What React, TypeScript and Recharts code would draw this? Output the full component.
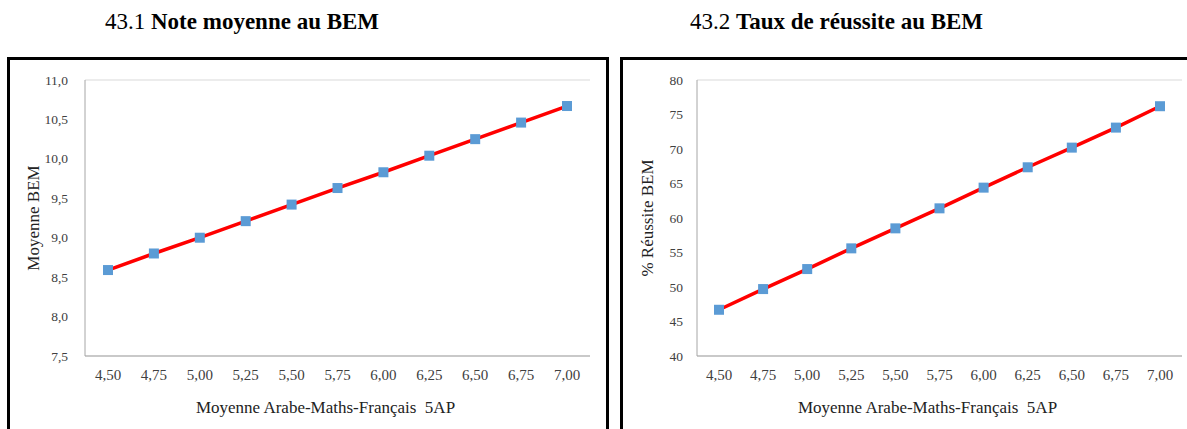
import React from "react";
import { LineChart, Line, XAxis, YAxis, CartesianGrid } from "recharts";

// Moyenne Arabe-Maths-Français 5AP (x categories)
const moyenne5AP = ["4,50", "4,75", "5,00", "5,25", "5,50", "5,75", "6,00", "6,25", "6,50", "6,75", "7,00"];
// 43.1 Note moyenne au BEM
const noteBEM = [8.59, 8.8, 9.0, 9.21, 9.42, 9.63, 9.83, 10.04, 10.25, 10.46, 10.67];
// 43.2 Taux de réussite au BEM (%)
const tauxBEM = [46.7, 49.7, 52.6, 55.6, 58.5, 61.4, 64.4, 67.35, 70.2, 73.1, 76.2];

const noteTicks = [7.5, 8, 8.5, 9, 9.5, 10, 10.5, 11];
const tauxTicks = [40, 45, 50, 55, 60, 65, 70, 75, 80];

const FONT = "'Liberation Serif', 'Times New Roman', serif";
const LINE_RED = "#ff0000";
const MARKER_BLUE = "#5b9bd5";
const BORDER_GRAY = "#a6a6a6";
const GRID_GRAY = "#d9d9d9";
const TICK_COLOR = "#404040";

const noteData = moyenne5AP.map((m, i) => ({ m, v: noteBEM[i] }));
const tauxData = moyenne5AP.map((m, i) => ({ m, v: tauxBEM[i] }));

const SquareDot = (props: any) => {
  const { cx, cy, index } = props;
  if (cx == null || cy == null) return null;
  return <rect key={index} x={cx - 5} y={cy - 5} width={10} height={10} fill={MARKER_BLUE} />;
};

const XTick = ({ x, y, payload }: any) => (
  <text x={x} y={y + 16} textAnchor="middle" fontFamily={FONT} fontSize={15} fill={TICK_COLOR}>
    {payload.value}
  </text>
);

interface PanelProps {
  data: { m: string; v: number }[];
  ticks: number[];
  domain: [number, number];
  fmt: (v: number) => string;
  yLabel: string;
  width: number;
  yWidth: number;
  right: number;
  pad: number;
  yLabelX: number;
  tickGap: number;
}

function Panel({ data, ticks, domain, fmt, yLabel, width, yWidth, right, pad, yLabelX, tickGap }: PanelProps) {
  const YTick = ({ x, y, payload }: any) => (
    <text x={x - tickGap + 8} y={y + 4.5} textAnchor="end" fontFamily={FONT} fontSize={13.5} fill={TICK_COLOR}>
      {fmt(payload.value)}
    </text>
  );
  return (
    <LineChart width={width} height={370} data={data} margin={{ top: 21, right, left: 0, bottom: 0 }}>
      <CartesianGrid vertical={false} stroke={GRID_GRAY} />
      <XAxis
        dataKey="m"
        xAxisId="bottom"
        height={73}
        padding={{ left: pad, right: pad }}
        interval={0}
        tickLine={false}
        axisLine={{ stroke: BORDER_GRAY }}
        tick={<XTick />}
        label={{
          value: "Moyenne Arabe-Maths-Français\u00a0 5AP",
          position: "insideBottom",
          offset: 16,
          dx: -12,
          fill: "#222",
          fontSize: 17,
          fontFamily: FONT,
        }}
      />
      <XAxis dataKey="m" xAxisId="top" orientation="top" height={0} tick={false} tickLine={false} axisLine={{ stroke: BORDER_GRAY }} />
      <YAxis
        yAxisId="left"
        width={yWidth}
        domain={domain}
        ticks={ticks}
        interval={0}
        tickLine={false}
        axisLine={{ stroke: BORDER_GRAY }}
        tick={<YTick />}
        label={{
          value: yLabel,
          angle: -90,
          position: "insideLeft",
          offset: yLabelX,
          fill: "#222",
          fontSize: 17,
          fontFamily: FONT,
          style: { textAnchor: "middle" },
        }}
      />
      <YAxis yAxisId="right" orientation="right" width={0} domain={domain} tick={false} tickLine={false} axisLine={{ stroke: BORDER_GRAY }} />
      <Line
        xAxisId="bottom"
        yAxisId="left"
        dataKey="v"
        type="linear"
        stroke={LINE_RED}
        strokeWidth={3.5}
        dot={<SquareDot />}
        activeDot={false}
        isAnimationActive={false}
      />
    </LineChart>
  );
}

const titleStyle: React.CSSProperties = {
  position: "absolute",
  top: 9,
  fontFamily: FONT,
  fontSize: 23,
  color: "#000",
  whiteSpace: "nowrap",
};

const boxStyle: React.CSSProperties = {
  position: "absolute",
  top: 57,
  height: 390,
  border: "3px solid #000",
  boxSizing: "border-box",
};

export default function App() {
  return (
    <div
      style={{
        position: "absolute",
        left: 0,
        top: 0,
        width: 1187,
        height: 429,
        overflow: "hidden",
        background: "#fff",
      }}
    >
      <div style={{ ...titleStyle, left: 105 }}>
        43.1 <b>Note moyenne au BEM</b>
      </div>
      <div style={{ ...titleStyle, left: 690 }}>
        43.2 <b>Taux de réussite au BEM</b>
      </div>

      <div style={{ ...boxStyle, left: 7, width: 602 }}>
        <div style={{ position: "absolute", left: -1, top: -1 }}>
          <Panel
            data={noteData}
            ticks={noteTicks}
            domain={[7.5, 11]}
            fmt={(v) => v.toFixed(1).replace(".", ",")}
            yLabel="Moyenne BEM"
            width={599}
            yWidth={76}
            right={18}
            pad={23}
            yLabelX={24}
            tickGap={17}
          />
        </div>
      </div>

      <div style={{ ...boxStyle, left: 620, width: 600 }}>
        <div style={{ position: "absolute", left: -1, top: -1 }}>
          <Panel
            data={tauxData}
            ticks={tauxTicks}
            domain={[40, 80]}
            fmt={(v) => String(v)}
            yLabel="% Réussite BEM"
            width={566}
            yWidth={75}
            right={6}
            pad={22}
            yLabelX={25}
            tickGap={14}
          />
        </div>
      </div>
    </div>
  );
}
